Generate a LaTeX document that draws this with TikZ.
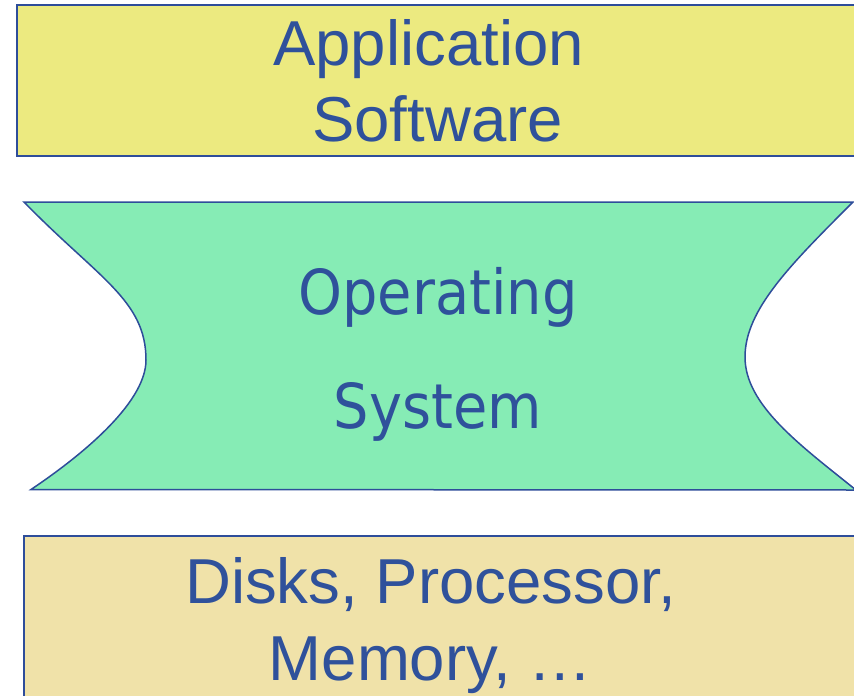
\documentclass[tikz,border=0pt]{standalone}
\usepackage{fontspec}
\setmainfont{Liberation Sans}
\newfontfamily\osfont{DejaVu Sans Condensed}
\definecolor{edgeblue}{HTML}{2E4D9A}
\definecolor{textblue}{HTML}{2F519B}
\definecolor{appfill}{HTML}{ECEA80}
\definecolor{osfill}{HTML}{86ECB5}
\definecolor{hwfill}{HTML}{F0E2A9}
\tikzset{
  layerbox/.style={draw=edgeblue},
  label/.style={text=textblue, inner sep=0pt, anchor=base, font=\fontsize{63.5}{70}\selectfont},
  oslabel/.style={label, font=\osfont\fontsize{62}{70}\selectfont},
}
\begin{document}
\begin{tikzpicture}[x=1pt, y=-1pt]
\useasboundingbox (0,0) rectangle (854,696);
\clip (0,0) rectangle (854,696);

% application layer
\draw[layerbox, fill=appfill, line width=2pt] (17,5) rectangle (870,156);
\node[label] (app1) at (428.5,65) {Application};
\node[label] (app2) at (437.5,141.5) {Software};

% operating system layer with concave sides
\draw[layerbox, fill=osfill, line width=1.5pt, line join=miter]
  (24,202) -- (853,202)
  .. controls (790,265) and (745,310) .. (745,357)
  .. controls (745,405) and (800,445) .. (856,490)
  -- (31,489.5)
  .. controls (75,460) and (146,405) .. (146,360)
  .. controls (146,300) and (98,278) .. cycle;
\node[oslabel] (os1) at (438,314) {Operating};
\node[oslabel] (os2) at (438,428) {System};

% hardware layer
\draw[layerbox, fill=hwfill, line width=2.2pt] (24,536) rectangle (870,710);
\node[label] (hw1) at (430.5,603) {Disks, Processor,};
\node[label] (hw2) at (430.5,680) {Memory, …};
\end{tikzpicture}
\end{document}
